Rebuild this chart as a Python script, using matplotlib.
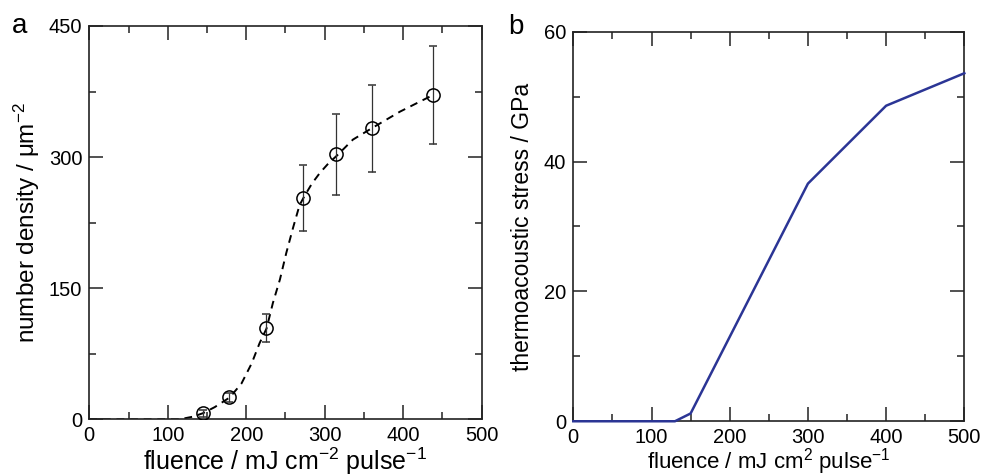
import matplotlib
matplotlib.use('Agg')
import matplotlib.pyplot as plt
from matplotlib.ticker import MultipleLocator

plt.rcParams['font.family'] = ['Liberation Sans', 'DejaVu Sans']
plt.rcParams['mathtext.fontset'] = 'custom'
plt.rcParams['mathtext.rm'] = 'Liberation Sans'
plt.rcParams['mathtext.it'] = 'Liberation Sans'

# panel a: measured number density
fluence_a = [145, 178, 225, 273, 315, 360, 438]
density = [7, 25, 104, 253, 303, 333, 371]
density_err = [4, 5, 16, 38, 46, 50, 56]

# dashed fit curve
fit_x = [0, 60, 115, 132, 145, 160, 179, 194, 207, 217, 226, 234, 243, 251, 260,
         268, 274, 284, 294, 305, 316, 336, 360, 396, 438]
fit_y = [0, 0, 0, 3, 7, 14, 25, 41, 64, 87, 104, 133, 160, 190, 220,
         245, 255, 270, 282, 293, 302, 320, 333, 352, 371]

# panel b: thermoacoustic stress
fluence_b = [0, 130, 150, 200, 300, 400, 500]
stress = [0, 0, 1.2, 13, 36.6, 48.6, 53.6]

fig = plt.figure(figsize=(9.81, 4.76), dpi=100)
ax1 = fig.add_axes([0.0910, 0.1191, 0.3999, 0.8263])
ax2 = fig.add_axes([0.5844, 0.1150, 0.3986, 0.8184])

ax1.plot(fit_x, fit_y, color='black', lw=1.4, dashes=(4, 3))
ax1.errorbar(fluence_a, density, yerr=density_err, fmt='o', mfc='none', mec='black',
             ms=9.5, mew=1.1, ecolor='#333333', elinewidth=0.9, capsize=3, capthick=0.9,
             zorder=3)
ax1.set_xlim(0, 500)
ax1.set_ylim(0, 450)
ax1.xaxis.set_major_locator(MultipleLocator(100))
ax1.xaxis.set_minor_locator(MultipleLocator(50))
ax1.yaxis.set_major_locator(MultipleLocator(150))
ax1.yaxis.set_minor_locator(MultipleLocator(75))
ax1.set_xlabel('fluence / mJ cm$^{-2}$ pulse$^{-1}$', fontsize=18, labelpad=0)
ax1.set_ylabel('number density / μm$^{-2}$', fontsize=17.5, labelpad=5)

ax2.plot(fluence_b, stress, color='#2b3595', lw=1.8, clip_on=False, zorder=3)
ax2.set_xlim(0, 500)
ax2.set_ylim(0, 60)
ax2.xaxis.set_major_locator(MultipleLocator(100))
ax2.xaxis.set_minor_locator(MultipleLocator(50))
ax2.yaxis.set_major_locator(MultipleLocator(20))
ax2.yaxis.set_minor_locator(MultipleLocator(10))
ax2.set_xlabel('fluence / mJ cm$^{2}$ pulse$^{-1}$', fontsize=16, labelpad=-1)
ax2.set_ylabel('thermoacoustic stress / GPa', fontsize=16.5, labelpad=7)

for ax in (ax1, ax2):
    for s in ax.spines.values():
        s.set_linewidth(1.2)
        s.set_color('#222222')
    ax.tick_params(which='both', direction='in', top=True, right=True,
                   width=1.1, color='#222222', labelsize=14.5)
    ax.tick_params(which='major', length=10)
    ax.tick_params(which='minor', length=5)
    ax.tick_params(axis='x', pad=5)
    ax.tick_params(axis='y', pad=5)

fig.text(0.012, 0.93, 'a', fontsize=20)
fig.text(0.518, 0.928, 'b', fontsize=20)

fig.savefig('out.png', dpi=100)
